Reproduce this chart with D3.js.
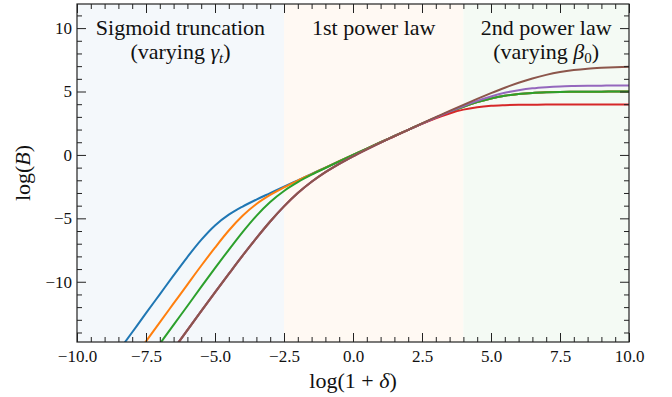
<!DOCTYPE html>
<html>
<head>
<meta charset="utf-8">
<script src="https://cdn.jsdelivr.net/npm/d3@7"></script>
<style>
  html, body { margin: 0; padding: 0; background: #fff; }
  text { font-family: "Liberation Serif", "DejaVu Serif", serif; fill: #111; }
</style>
</head>
<body>
<div id="chart-root"></div>
<script>
// log(1 + delta) sample points, shared by all curves
const xs = [-9, -8.5, -8, -7.5, -7, -6.5, -6, -5.5, -5, -4.5, -4, -3.5, -3, -2.5, -2, -1.5, -1, -0.5, 0,
  0.5, 1, 1.5, 2, 2.5, 3, 3.5, 4, 4.5, 5, 5.5, 6, 6.5, 7, 7.5, 8, 8.5, 9, 9.5, 10];

// log(B)
const yBlue = [-16.98, -15.48, -13.98, -12.48, -10.99, -9.50, -8.05, -6.70, -5.56, -4.71, -4.07, -3.52, -3.01, -2.50, -2.00, -1.50, -1.00, -0.50, 0.00,
  0.50, 1.00, 1.49, 1.98, 2.47, 2.94, 3.39, 3.80, 4.16, 4.45, 4.66, 4.80, 4.89, 4.94, 4.97, 4.98, 4.99, 4.99, 5.00, 5.00];
const yOrange = [-19.2, -17.7, -16.2, -14.7, -13.2, -11.71, -10.22, -8.74, -7.31, -5.96, -4.80, -3.87, -3.15, -2.56, -2.02, -1.51, -1.00, -0.50, 0.00,
  0.50, 1.00, 1.49, 1.98, 2.47, 2.94, 3.39, 3.80, 4.16, 4.45, 4.66, 4.80, 4.89, 4.94, 4.97, 4.98, 4.99, 4.99, 5.00, 5.00];
const yGreen = [-20.9, -19.4, -17.9, -16.4, -14.9, -13.4, -11.91, -10.41, -8.93, -7.48, -6.08, -4.80, -3.71, -2.84, -2.15, -1.56, -1.03, -0.51, 0.00,
  0.50, 1.00, 1.49, 1.98, 2.47, 2.94, 3.39, 3.80, 4.16, 4.45, 4.66, 4.80, 4.89, 4.94, 4.97, 4.98, 4.99, 4.99, 5.00, 5.00];
const yRed = [-22.8, -21.3, -19.8, -18.3, -16.8, -15.31, -13.81, -12.32, -10.84, -9.38, -7.94, -6.56, -5.25, -4.06, -3.01, -2.12, -1.36, -0.70, -0.11,
  0.44, 0.97, 1.47, 1.97, 2.45, 2.89, 3.27, 3.57, 3.76, 3.87, 3.92, 3.95, 3.96, 3.97, 3.97, 3.97, 3.97, 3.97, 3.97, 3.97];
const yPurple = [-22.8, -21.3, -19.8, -18.3, -16.8, -15.31, -13.81, -12.32, -10.84, -9.38, -7.94, -6.56, -5.25, -4.06, -3.01, -2.12, -1.36, -0.70, -0.11,
  0.44, 0.97, 1.48, 1.98, 2.47, 2.95, 3.42, 3.86, 4.26, 4.61, 4.90, 5.10, 5.25, 5.34, 5.40, 5.43, 5.45, 5.46, 5.47, 5.47];
const yBrown = [-22.8, -21.3, -19.8, -18.3, -16.8, -15.31, -13.81, -12.32, -10.84, -9.38, -7.94, -6.56, -5.25, -4.06, -3.01, -2.12, -1.36, -0.70, -0.11,
  0.44, 0.97, 1.48, 1.98, 2.49, 2.98, 3.47, 3.95, 4.42, 4.87, 5.30, 5.69, 6.03, 6.31, 6.53, 6.69, 6.80, 6.87, 6.92, 6.95];

const seriesColors = ['#1f77b4', '#ff7f0e', '#2ca02c', '#d62728', '#9467bd', '#8c564b'];

// shaded regimes
const regionEdges = [-10, -2.5, 4, 10];
const regionFills = ['#f4f8fb', '#fff9f3', '#f4faf4'];

const xMajorTicks = [-10, -7.5, -5, -2.5, 0, 2.5, 5, 7.5, 10];
const yMajorTicks = [-10, -5, 0, 5, 10];

var width = 672, height = 397;
var margin = {top: 4, right: 43, bottom: 55, left: 77};
var plotW = width - margin.left - margin.right;
var plotH = height - margin.top - margin.bottom;
var serif = '"Liberation Serif", "DejaVu Serif", serif';

var svg = d3.select('#chart-root')
    .append('svg')
    .attr('width', width)
    .attr('height', height);

var x_scale = d3.scaleLinear().domain([-10, 10]).range([margin.left, margin.left + plotW]);
var y_scale = d3.scaleLinear().domain([-14.75, 11.9]).range([margin.top + plotH, margin.top]);

svg.append('defs').append('clipPath').attr('id', 'plot-clip')
    .append('rect')
    .attr('x', margin.left).attr('y', margin.top)
    .attr('width', plotW).attr('height', plotH);

// background bands
svg.append('g').selectAll('rect')
    .data(regionFills)
    .join('rect')
    .attr('x', (d, i) => x_scale(regionEdges[i]))
    .attr('width', (d, i) => x_scale(regionEdges[i + 1]) - x_scale(regionEdges[i]))
    .attr('y', margin.top)
    .attr('height', plotH)
    .attr('fill', d => d);

// curves
var allSeries = [yBlue, yOrange, yGreen, yRed, yPurple, yBrown];
var line = d3.line()
    .x((d, i) => x_scale(xs[i]))
    .y(d => y_scale(d))
    .curve(d3.curveMonotoneX);

svg.append('g')
    .attr('clip-path', 'url(#plot-clip)')
    .selectAll('path')
    .data(allSeries)
    .join('path')
    .attr('d', line)
    .attr('fill', 'none')
    .attr('stroke', (d, i) => seriesColors[i])
    .attr('stroke-width', 2);

// ticks, all pointing inward
var xMinor = d3.range(-10, 10.01, 0.5).filter(v => xMajorTicks.indexOf(v) < 0);
var yMinor = d3.range(-14, 12, 1).filter(v => yMajorTicks.indexOf(v) < 0);

function addAxis(axis, tx, ty) {
  var g = svg.append('g')
      .attr('transform', 'translate(' + tx + ',' + ty + ')')
      .call(axis)
      .attr('font-family', serif)
      .attr('font-size', 17);
  g.select('.domain').remove();
  g.selectAll('line').attr('stroke', '#222').attr('stroke-width', 1);
  g.selectAll('text').attr('fill', '#111');
  return g;
}

var bottom = margin.top + plotH, right = margin.left + plotW;

addAxis(d3.axisBottom(x_scale).tickValues(xMajorTicks).tickSize(-9).tickPadding(8)
    .tickFormat(d3.format('.1f')), 0, bottom);
addAxis(d3.axisBottom(x_scale).tickValues(xMinor).tickSize(-5).tickFormat(''), 0, bottom);
addAxis(d3.axisTop(x_scale).tickValues(xMajorTicks).tickSize(-9).tickFormat(''), 0, margin.top);
addAxis(d3.axisTop(x_scale).tickValues(xMinor).tickSize(-5).tickFormat(''), 0, margin.top);

addAxis(d3.axisLeft(y_scale).tickValues(yMajorTicks).tickSize(-9).tickPadding(5)
    .tickFormat(d3.format('d')), margin.left, 0);
addAxis(d3.axisLeft(y_scale).tickValues(yMinor).tickSize(-5).tickFormat(''), margin.left, 0);
addAxis(d3.axisRight(y_scale).tickValues(yMajorTicks).tickSize(-9).tickFormat(''), right, 0);
addAxis(d3.axisRight(y_scale).tickValues(yMinor).tickSize(-5).tickFormat(''), right, 0);

// frame
svg.append('rect')
    .attr('x', margin.left).attr('y', margin.top)
    .attr('width', plotW).attr('height', plotH)
    .attr('fill', 'none')
    .attr('stroke', '#222')
    .attr('stroke-width', 1.2);

// region titles
function regionTitle(xv, yPx, parts) {
  var t = svg.append('text')
      .attr('x', x_scale(xv)).attr('y', yPx)
      .attr('text-anchor', 'middle')
      .style('font-size', '22px');
  parts.forEach(p => {
    var s = t.append('tspan').text(p.text);
    if (p.italic) s.style('font-style', 'italic');
    if (p.sub) s.attr('baseline-shift', '-25%').style('font-size', '15px');
  });
}

var midBlue = (regionEdges[0] + regionEdges[1]) / 2;
var midOrange = (regionEdges[1] + regionEdges[2]) / 2;
var midGreen = (regionEdges[2] + regionEdges[3]) / 2;

regionTitle(midBlue, 35, [{text: 'Sigmoid truncation'}]);
regionTitle(midBlue, 59, [{text: '(varying '}, {text: 'γ', italic: true}, {text: 't', italic: true, sub: true}, {text: ')'}]);
regionTitle(midOrange, 35, [{text: '1st power law'}]);
regionTitle(midGreen, 35, [{text: '2nd power law'}]);
regionTitle(midGreen, 59, [{text: '(varying '}, {text: 'β', italic: true}, {text: '0', sub: true}, {text: ')'}]);

// axis labels
var xlab = svg.append('text')
    .attr('x', margin.left + plotW / 2).attr('y', 388)
    .attr('text-anchor', 'middle')
    .style('font-size', '22px');
xlab.append('tspan').text('log(1 + ');
xlab.append('tspan').text('δ').style('font-style', 'italic');
xlab.append('tspan').text(')');

var ylab = svg.append('text')
    .attr('transform', 'translate(30,' + (margin.top + plotH / 2) + ') rotate(-90)')
    .attr('text-anchor', 'middle')
    .style('font-size', '22px');
ylab.append('tspan').text('log(');
ylab.append('tspan').text('B').style('font-style', 'italic');
ylab.append('tspan').text(')');
</script>
</body>
</html>
